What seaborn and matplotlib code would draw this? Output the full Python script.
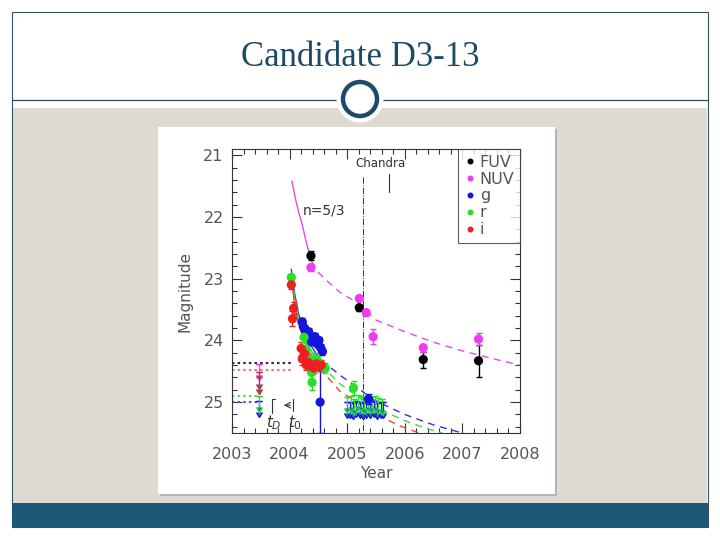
import numpy as np
import pandas as pd
import matplotlib.pyplot as plt
import seaborn as sns
from matplotlib.patches import Rectangle, Circle
from matplotlib.ticker import MultipleLocator

# ---- data ----
bands = ['FUV', 'NUV', 'g', 'r', 'i']
band_colors = ['#000000', '#f03cf0', '#1414dc', '#28e028', '#ec2020']

fuv_year = [2004.37, 2005.21, 2006.32, 2007.28]
fuv_mag = [22.63, 23.47, 24.31, 24.33]
fuv_err = [0.07, 0.05, 0.13, 0.26]

nuv_year = [2004.37, 2005.21, 2005.33, 2005.45, 2006.32, 2007.28]
nuv_mag = [22.82, 23.32, 23.55, 23.94, 24.12, 23.98]
nuv_err = [0.06, 0.04, 0.05, 0.12, 0.06, 0.10]

g_year = [2004.22, 2004.24, 2004.27, 2004.29, 2004.31, 2004.33, 2004.36, 2004.38, 2004.41,
          2004.44, 2004.46, 2004.49, 2004.51, 2004.54, 2004.57, 2004.53, 2005.37]
g_mag = [23.70, 23.78, 23.82, 23.88, 23.92, 23.86, 23.95, 24.02, 24.00,
         23.94, 24.03, 24.06, 24.00, 24.12, 24.18, 25.00, 24.95]
g_err = [0.06, 0.06, 0.06, 0.06, 0.06, 0.06, 0.06, 0.06, 0.06,
         0.06, 0.06, 0.06, 0.06, 0.06, 0.06, 0.50, 0.08]

r_year = [2004.03, 2004.25, 2004.29, 2004.34, 2004.38, 2004.39, 2004.44, 2004.50, 2004.62, 2005.11]
r_mag = [22.98, 23.95, 24.15, 24.30, 24.52, 24.68, 24.30, 24.35, 24.45, 24.77]
r_err = [0.05, 0.08, 0.10, 0.10, 0.10, 0.12, 0.10, 0.10, 0.08, 0.12]

i_year = [2004.03, 2004.07, 2004.05, 2004.20, 2004.22, 2004.26, 2004.29, 2004.33,
          2004.37, 2004.42, 2004.47, 2004.52, 2004.55]
i_mag = [23.10, 23.48, 23.65, 24.13, 24.30, 24.22, 24.40, 24.36,
         24.42, 24.45, 24.38, 24.42, 24.40]
i_err = [0.06, 0.10, 0.12, 0.10, 0.10, 0.10, 0.08, 0.10,
         0.10, 0.08, 0.08, 0.08, 0.08]

# upper limits (band, year, mag)
lim_band = ['NUV', 'i', 'i', 'r', 'g'] + ['r'] * 11 + ['g'] * 12
lim_year = [2003.47, 2003.47, 2003.47, 2003.47, 2003.47,
            2005.00, 2005.06, 2005.12, 2005.18, 2005.24, 2005.30, 2005.36, 2005.42, 2005.48, 2005.54, 2005.60,
            2005.00, 2005.05, 2005.10, 2005.16, 2005.22, 2005.28, 2005.33, 2005.40, 2005.46, 2005.52, 2005.58, 2005.63]
lim_mag = [24.38, 24.52, 24.60, 24.90, 24.98,
           24.92, 24.90, 24.95, 24.88, 24.90, 24.93, 24.90, 24.92, 24.90, 24.93, 24.95,
           25.00, 24.99, 25.02, 24.98, 25.00, 25.02, 24.99, 25.00, 24.98, 25.02, 25.00, 24.99]

# pre-outburst limit levels (dotted)
pre_level = [24.36, 24.48, 24.90, 24.99]
pre_end = [2004.05, 2004.05, 2003.47, 2003.47]
pre_colors = ['#3a1a4a', '#f07090', '#50e050', '#5050e0']

# model curves (solid part, dashed part)
nuv_fit_solid_x = [2004.04, 2004.10, 2004.16, 2004.22, 2004.30, 2004.38]
nuv_fit_solid_y = [21.42, 21.70, 21.93, 22.13, 22.45, 22.72]
nuv_fit_dash_x = [2004.38, 2004.50, 2004.70, 2004.90, 2005.20, 2005.50, 2006.00, 2006.50, 2007.00, 2007.50, 2008.00]
nuv_fit_dash_y = [22.72, 22.90, 23.08, 23.24, 23.40, 23.67, 23.86, 24.03, 24.17, 24.29, 24.40]

g_fit_solid_x = [2004.03, 2004.08, 2004.15, 2004.25, 2004.35, 2004.45, 2004.55]
g_fit_solid_y = [22.85, 23.20, 23.55, 23.85, 24.05, 24.20, 24.32]
g_fit_dash_x = [2004.55, 2004.87, 2005.20, 2005.45, 2006.00, 2006.50, 2007.00]
g_fit_dash_y = [24.32, 24.56, 24.78, 24.96, 25.20, 25.37, 25.50]

r_fit_solid_x = [2004.04, 2004.08, 2004.15, 2004.25, 2004.35, 2004.45, 2004.55]
r_fit_solid_y = [22.92, 23.28, 23.62, 23.92, 24.12, 24.28, 24.40]
r_fit_dash_x = [2004.55, 2004.87, 2005.20, 2005.45, 2006.00, 2006.35, 2006.65]
r_fit_dash_y = [24.40, 24.70, 24.92, 25.07, 25.30, 25.42, 25.50]

i_fit_solid_x = [2004.03, 2004.08, 2004.15, 2004.25, 2004.35, 2004.45, 2004.52]
i_fit_solid_y = [22.98, 23.38, 23.72, 24.00, 24.20, 24.36, 24.45]
i_fit_dash_x = [2004.52, 2004.87, 2005.20, 2005.45, 2005.90, 2006.25]
i_fit_dash_y = [24.45, 24.82, 25.02, 25.17, 25.38, 25.50]

chandra_year = 2005.28
t_d = 2003.70
t_0 = 2004.06

# ---- tables ----
det = pd.concat([
    pd.DataFrame({'band': b, 'year': x, 'mag': m, 'err': e})
    for b, x, m, e in [('FUV', fuv_year, fuv_mag, fuv_err), ('NUV', nuv_year, nuv_mag, nuv_err),
                       ('g', g_year, g_mag, g_err), ('r', r_year, r_mag, r_err), ('i', i_year, i_mag, i_err)]
], ignore_index=True)
lims = pd.DataFrame({'band': lim_band, 'year': lim_year, 'mag': lim_mag})
pal = dict(zip(bands, band_colors))

sns.set_style('ticks')
plt.rcParams['font.family'] = ['DejaVu Sans']

fig = plt.figure(figsize=(7.2, 5.4), dpi=100)
fig.patch.set_facecolor('white')
T = fig.dpi_scale_trans


def rect(x, y, w, h, **kw):
    # pixel box (top-left origin) -> inches
    fig.add_artist(Rectangle((x / 100, (540 - y - h) / 100), w / 100, h / 100, transform=T, **kw))


# slide decorations
rect(12, 12, 696, 515, facecolor='white', edgecolor='#33505f', lw=0.8, zorder=-20)
rect(13, 108, 694, 395, facecolor='#dedad2', edgecolor='none', zorder=-19)
rect(12, 503, 696, 24, facecolor='#1e5878', edgecolor='none', zorder=-18)
fig.add_artist(plt.Line2D([0.12, 7.08], [4.40, 4.40], transform=T, color='#2f4c5c', lw=0.9, zorder=-17))
fig.add_artist(Circle((3.60, 4.41), 0.235, transform=T, facecolor='white', edgecolor='none', zorder=-16))
fig.add_artist(Circle((3.60, 4.41), 0.17, transform=T, facecolor='none', edgecolor='#1d4a68', lw=3.2, zorder=-15))
rect(160, 129, 397, 367, facecolor='#b4b4b4', edgecolor='none', zorder=-14)
rect(158, 127, 397, 367, facecolor='white', edgecolor='none', zorder=-13)
fig.text(0.5, 1 - 58 / 540, 'Candidate D3-13', ha='center', va='center', fontsize=25,
         family=['Liberation Serif', 'DejaVu Serif'], color='#1f4a66')

ax = fig.add_axes([232 / 720, 1 - 433 / 540, 288 / 720, 284 / 540])
ax.set_facecolor('none')
ax.set_xlim(2003, 2008)
ax.set_ylim(25.5, 20.9)

# model curves
for sx, sy, dx, dy, c in [(nuv_fit_solid_x, nuv_fit_solid_y, nuv_fit_dash_x, nuv_fit_dash_y, '#e04ce0'),
                          (g_fit_solid_x, g_fit_solid_y, g_fit_dash_x, g_fit_dash_y, '#3030e0'),
                          (r_fit_solid_x, r_fit_solid_y, r_fit_dash_x, r_fit_dash_y, '#40d840'),
                          (i_fit_solid_x, i_fit_solid_y, i_fit_dash_x, i_fit_dash_y, '#e84a30')]:
    sns.lineplot(x=sx, y=sy, sort=False, estimator=None, color=c, lw=1.0, ax=ax)
    sns.lineplot(x=dx, y=dy, sort=False, estimator=None, color=c, lw=1.0,
                 linestyle=(0, (5, 4)), ax=ax)

# pre-outburst dotted levels
for lev, end, c in zip(pre_level, pre_end, pre_colors):
    ax.hlines(lev, 2003, end, colors=c, linestyles=(0, (1.2, 1.5)), lw=1.5)

# Chandra epoch
ax.plot([chandra_year, chandra_year], [21.35, 25.5], color='#333333', lw=0.7, linestyle='-.')
ax.text(2005.57, 21.13, 'Chandra', ha='center', va='center', fontsize=8.5, color='#333333')
ax.plot([2005.72, 2005.72], [21.3, 21.6], color='#333333', lw=0.8)
ax.text(2004.23, 21.9, 'n=5/3', ha='left', va='center', fontsize=10, color='#333333')

# upper limits: cap + arrow toward fainter magnitudes
for b, grp in lims.groupby('band'):
    ax.errorbar(grp['year'], grp['mag'], yerr=0.18, lolims=True, fmt='none',
                ecolor=pal[b], elinewidth=0.9, capsize=2.2)
    ax.scatter(grp['year'], grp['mag'], marker='_', s=25, color=pal[b], lw=0.9)

# detections
for b, grp in det.groupby('band'):
    ax.errorbar(grp['year'], grp['mag'], yerr=grp['err'], fmt='none',
                ecolor=pal[b], elinewidth=1.0, capsize=2.5, zorder=4)
sns.scatterplot(data=det, x='year', y='mag', hue='band', hue_order=bands, palette=pal,
                s=44, edgecolor='none', zorder=5, ax=ax)

# t_D / t_0 markers
ax.plot([t_d, t_d, t_d + 0.05], [25.17, 24.95, 24.95], color='#333333', lw=0.8)
ax.plot([t_0, t_0], [24.95, 25.15], color='#333333', lw=0.8)
ax.annotate('', xy=(t_d + 0.15, 25.05), xytext=(t_0, 25.05),
            arrowprops=dict(arrowstyle='->', color='#333333', lw=0.8))
ax.text(t_d + 0.03, 25.33, '$t_D$', ha='center', va='center', fontsize=11, color='#333333')
ax.text(t_0 + 0.03, 25.33, '$t_0$', ha='center', va='center', fontsize=11, color='#333333')

# axes styling
ax.xaxis.set_major_locator(MultipleLocator(1))
ax.xaxis.set_minor_locator(MultipleLocator(0.2))
ax.yaxis.set_major_locator(MultipleLocator(1))
ax.yaxis.set_minor_locator(MultipleLocator(0.2))
ax.tick_params(which='both', direction='in', top=True, right=True, color='#333333', width=0.8)
ax.tick_params(which='major', length=7, labelsize=11.5, labelcolor='#555555')
ax.tick_params(which='minor', length=3.5)
ax.tick_params(axis='x', which='major', pad=10)
ax.tick_params(axis='y', which='major', pad=6)
for s in ax.spines.values():
    s.set_color('#333333')
    s.set_linewidth(0.8)
ax.set_xlabel('Year', fontsize=11, color='#555555', labelpad=3)
ax.set_ylabel('Magnitude', fontsize=11, color='#555555', labelpad=8)

handles, labels = ax.get_legend_handles_labels()
leg = ax.legend(handles, labels, loc='upper right', fontsize=11.5, frameon=True, fancybox=False,
                borderaxespad=0, handletextpad=0.2, handlelength=0.8, labelspacing=0.12,
                borderpad=0.35, markerscale=0.65)
leg.get_frame().set_edgecolor('#333333')
leg.get_frame().set_linewidth(0.8)
for t in leg.get_texts():
    t.set_color('#555555')

fig.savefig('out.png', dpi=100)
